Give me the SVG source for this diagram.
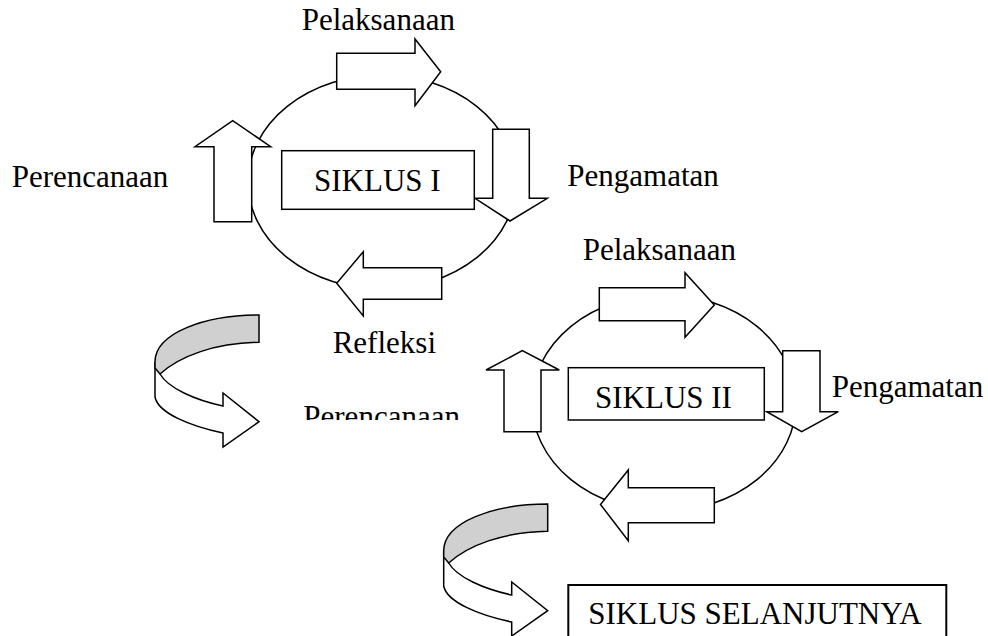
<svg xmlns="http://www.w3.org/2000/svg" xmlns:xlink="http://www.w3.org/1999/xlink" width="988" height="636" viewBox="0 0 988 636">
<style>
.ln{fill:none;stroke:#000;stroke-width:1.5}
.ar{fill:#fff;stroke:#000;stroke-width:1.5;stroke-linejoin:miter}
.bx{fill:#fff;stroke:#000;stroke-width:1.5}
.gr{fill:#d0d0d0;stroke:#000;stroke-width:1.5}
.t{font-family:"Liberation Serif","Times New Roman",serif;font-size:31px;fill:#000}
</style>
<defs>
<clipPath id="clipP"><rect x="280" y="380" width="220" height="40"/></clipPath>
<g id="curve">
<path class="ar" d="M155,362 L155,397 C158,413 190,426 223,433 L223,447 L259,421.7 L223,393 L223,406 C195,400 168,388 160,374 Z"/>
<path class="gr" d="M259,315 C205,315 155,333 155,362 L155,368 L160,374 C180,356 215,343 259,342.3 Z"/>
</g>
</defs>
<rect width="988" height="636" fill="#fff"/>
<g id="connectors">
<ellipse class="ln" cx="382" cy="182" rx="134" ry="107"/>
<ellipse class="ln" cx="664" cy="403" rx="132" ry="108"/>
<polygon class="ar" points="336.7,53.3 415,53.3 415,39 440.7,71.7 415,105.7 415,89.3 336.7,89.3"/>
<polygon class="ar" points="492.7,129.3 529.3,129.3 529.3,198.3 547.3,198.3 510,221 475,198.3 492.7,198.3"/>
<polygon class="ar" points="441.7,267.7 363.3,267.7 363.3,251.7 336.7,283.3 363.3,316 363.3,299.3 441.7,299.3"/>
<polygon class="ar" points="214,221.7 214,146.7 195,146.7 232.7,120.7 270.7,146.7 251.7,146.7 251.7,221.7"/>
<polygon class="ar" points="599.3,287.7 685,287.7 685,272.7 714.3,305 685,337.3 685,320.7 599.3,320.7"/>
<polygon class="ar" points="782.7,350.7 820,350.7 820,411.7 838.3,411.7 801.7,431.7 766.7,411.7 782.7,411.7"/>
<polygon class="ar" points="714.3,487.7 628.3,487.7 628.3,470 600.5,504.5 628.3,540.7 628.3,522.7 714.3,522.7"/>
<polygon class="ar" points="504,431.7 504,370 486,370 522.3,350.7 559.3,370 541,370 541,431.7"/>
<use xlink:href="#curve"/>
<use xlink:href="#curve" transform="translate(288.7,189)"/>
</g>
<g id="siklus1">
<rect class="bx" x="281.7" y="150.7" width="192.6" height="58.6"/>
<text class="t" x="314" y="190.7">SIKLUS I</text>
</g>
<g id="siklus2">
<rect class="bx" x="568.3" y="367.7" width="196" height="52.3"/>
<text class="t" x="595" y="408.3">SIKLUS II</text>
</g>
<g id="selanjutnya">
<rect x="568.3" y="585" width="378" height="70" fill="#fff" stroke="#000" stroke-width="2"/>
<text class="t" x="588.3" y="624.3">SIKLUS SELANJUTNYA</text>
</g>
<g id="labels">
<text class="t" x="301.7" y="30">Pelaksanaan</text>
<text class="t" x="11.7" y="187.3">Perencanaan</text>
<text class="t" x="567.3" y="186">Pengamatan</text>
<text class="t" x="332.7" y="353.3">Refleksi</text>
<text class="t" x="582.7" y="260">Pelaksanaan</text>
<text class="t" x="831.7" y="396.7">Pengamatan</text>
<text class="t" x="303.3" y="426.5" clip-path="url(#clipP)">Perencanaan</text>
</g>
</svg>
